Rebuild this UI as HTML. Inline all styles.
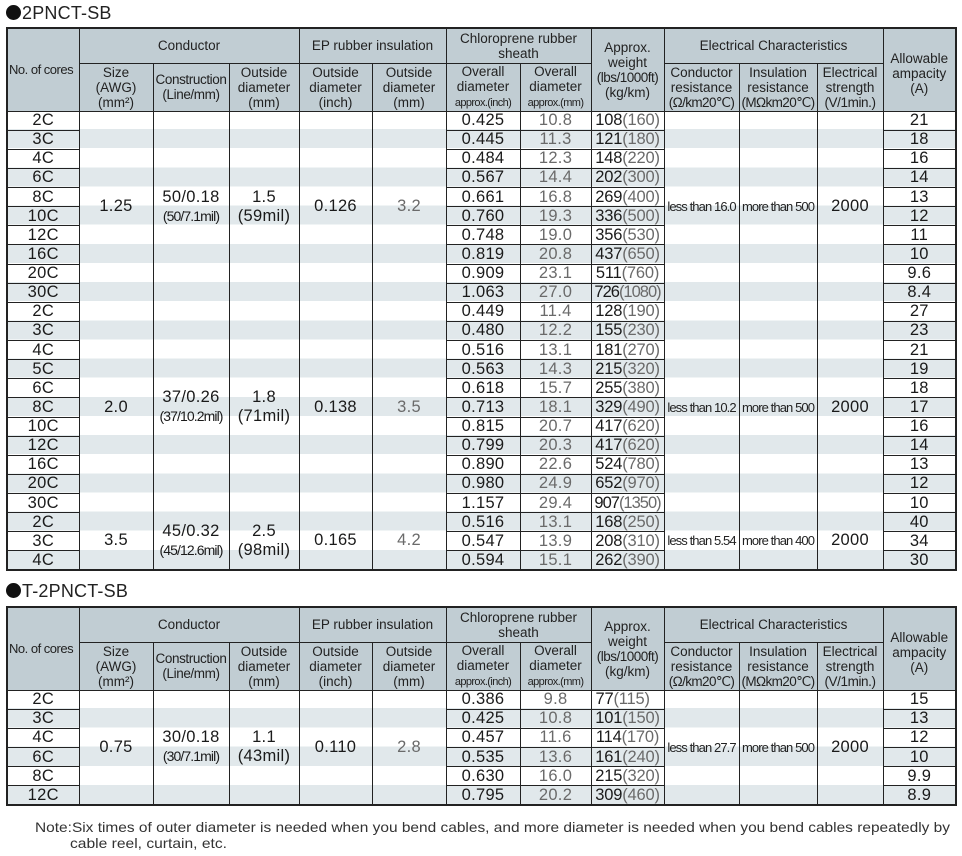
<!DOCTYPE html>
<html><head><meta charset="utf-8">
<style>
*{margin:0;padding:0;box-sizing:border-box}
body{width:962px;height:856px;background:#fff;position:relative;overflow:hidden;font-family:"Liberation Sans",sans-serif;color:#1a1a1a}
.title{position:absolute;left:6px;font-size:18px;color:#222;letter-spacing:0.2px;line-height:20px}
.dot{display:inline-block;width:15px;height:15px;border-radius:50%;background:#111;vertical-align:-1px;margin-right:1px}
.wrap{position:absolute;left:6px;width:949px}
.stripe{position:absolute;left:0;width:949px;top:83px;background:repeating-linear-gradient(to bottom,#fff 0,#fff 19.125px,#e1e8eb 19.125px,#e1e8eb 38.25px)}
table{position:relative;border-collapse:collapse;table-layout:fixed;width:949px;border:2px solid #222}
td,th{border:1px solid #222;text-align:center;vertical-align:middle;padding:0;overflow:visible;white-space:nowrap}
th{background:#c1cdd3;font-weight:normal;font-size:13.5px;line-height:15px;color:#222}
td{font-size:16.5px;line-height:17px;height:19.125px;letter-spacing:0.3px}
td.m{border-top:none;border-bottom:none}
td.w{letter-spacing:-0.2px}
.g{color:#6a6a6a}
.sm{font-size:13px;letter-spacing:-0.9px;color:#222}
.two{font-size:16.5px;line-height:19px}
.two small{font-size:14px;letter-spacing:-0.9px}
tr.h1{height:35px}
tr.h2{height:48px}
.nc{text-align:left!important;padding-left:1px!important;font-size:13px!important;letter-spacing:-0.5px}
</style></head><body>

<div class="title" style="top:3px"><span class="dot"></span>2PNCT-SB</div>
<div class="wrap" style="top:27px">
<div class="stripe" style="height:459px"></div>
<table>
<colgroup><col style="width:72px"><col style="width:74px"><col style="width:76px"><col style="width:70px"><col style="width:73px"><col style="width:74px"><col style="width:74px"><col style="width:71px"><col style="width:73px"><col style="width:75px"><col style="width:78px"><col style="width:66px"><col style="width:73px"></colgroup>
<tr class="h1"><th rowspan="2" class="nc">No. of cores</th><th colspan="3">Conductor</th><th colspan="2">EP rubber insulation</th><th colspan="2">Chloroprene rubber<br>sheath</th><th rowspan="2">Approx.<br>weight<br><span style="letter-spacing:-0.5px">(lbs/1000ft)</span><br>(kg/km)</th><th colspan="3">Electrical Characteristics</th><th rowspan="2" style="padding-top:8px">Allowable<br>ampacity<br>(A)</th></tr>
<tr class="h2"><th>Size<br>(AWG)<br>(mm²)</th><th style="letter-spacing:-0.4px">Construction<br>(Line/mm)</th><th>Outside<br>diameter<br>(mm)</th><th>Outside<br>diameter<br>(inch)</th><th>Outside<br>diameter<br>(mm)</th><th>Overall<br>diameter<br><span style="font-size:11px;letter-spacing:-0.6px">approx.(inch)</span></th><th>Overall<br>diameter<br><span style="font-size:11px;letter-spacing:-0.6px">approx.(mm)</span></th><th>Conductor<br>resistance<br><span style="letter-spacing:-0.6px">(Ω/km20℃)</span></th><th>Insulation<br>resistance<br><span style="letter-spacing:-0.6px">(MΩkm20℃)</span></th><th>Electrical<br>strength<br><span style="letter-spacing:-0.4px">(V/1min.)</span></th></tr>

<tr><td>2C</td><td class="m" rowspan="10">1.25</td><td class="m two" rowspan="10">50/0.18<br><small>(50/7.1mil)</small></td><td class="m two" rowspan="10">1.5<br>(59mil)</td><td class="m" rowspan="10">0.126</td><td class="m g" rowspan="10">3.2</td><td>0.425</td><td class="g">10.8</td><td class="w">108<span class="g">(160)</span></td><td class="m sm" rowspan="10">less than 16.0</td><td class="m sm" rowspan="10">more than 500</td><td class="m" rowspan="10">2000</td><td>21</td></tr>
<tr><td>3C</td><td>0.445</td><td class="g">11.3</td><td class="w">121<span class="g">(180)</span></td><td>18</td></tr>
<tr><td>4C</td><td>0.484</td><td class="g">12.3</td><td class="w">148<span class="g">(220)</span></td><td>16</td></tr>
<tr><td>6C</td><td>0.567</td><td class="g">14.4</td><td class="w">202<span class="g">(300)</span></td><td>14</td></tr>
<tr><td>8C</td><td>0.661</td><td class="g">16.8</td><td class="w">269<span class="g">(400)</span></td><td>13</td></tr>
<tr><td>10C</td><td>0.760</td><td class="g">19.3</td><td class="w">336<span class="g">(500)</span></td><td>12</td></tr>
<tr><td>12C</td><td>0.748</td><td class="g">19.0</td><td class="w">356<span class="g">(530)</span></td><td>11</td></tr>
<tr><td>16C</td><td>0.819</td><td class="g">20.8</td><td class="w">437<span class="g">(650)</span></td><td>10</td></tr>
<tr><td>20C</td><td>0.909</td><td class="g">23.1</td><td class="w">511<span class="g">(760)</span></td><td>9.6</td></tr>
<tr><td>30C</td><td>1.063</td><td class="g">27.0</td><td class="w" style="letter-spacing:-1px">726<span class="g">(1080)</span></td><td>8.4</td></tr>

<tr><td>2C</td><td class="m" rowspan="11">2.0</td><td class="m two" rowspan="11">37/0.26<br><small>(37/10.2mil)</small></td><td class="m two" rowspan="11">1.8<br>(71mil)</td><td class="m" rowspan="11">0.138</td><td class="m g" rowspan="11">3.5</td><td>0.449</td><td class="g">11.4</td><td class="w">128<span class="g">(190)</span></td><td class="m sm" rowspan="11">less than 10.2</td><td class="m sm" rowspan="11">more than 500</td><td class="m" rowspan="11">2000</td><td>27</td></tr>
<tr><td>3C</td><td>0.480</td><td class="g">12.2</td><td class="w">155<span class="g">(230)</span></td><td>23</td></tr>
<tr><td>4C</td><td>0.516</td><td class="g">13.1</td><td class="w">181<span class="g">(270)</span></td><td>21</td></tr>
<tr><td>5C</td><td>0.563</td><td class="g">14.3</td><td class="w">215<span class="g">(320)</span></td><td>19</td></tr>
<tr><td>6C</td><td>0.618</td><td class="g">15.7</td><td class="w">255<span class="g">(380)</span></td><td>18</td></tr>
<tr><td>8C</td><td>0.713</td><td class="g">18.1</td><td class="w">329<span class="g">(490)</span></td><td>17</td></tr>
<tr><td>10C</td><td>0.815</td><td class="g">20.7</td><td class="w">417<span class="g">(620)</span></td><td>16</td></tr>
<tr><td>12C</td><td>0.799</td><td class="g">20.3</td><td class="w">417<span class="g">(620)</span></td><td>14</td></tr>
<tr><td>16C</td><td>0.890</td><td class="g">22.6</td><td class="w">524<span class="g">(780)</span></td><td>13</td></tr>
<tr><td>20C</td><td>0.980</td><td class="g">24.9</td><td class="w">652<span class="g">(970)</span></td><td>12</td></tr>
<tr><td>30C</td><td>1.157</td><td class="g">29.4</td><td class="w" style="letter-spacing:-1px">907<span class="g">(1350)</span></td><td>10</td></tr>

<tr><td>2C</td><td class="m" rowspan="3">3.5</td><td class="m two" rowspan="3">45/0.32<br><small>(45/12.6mil)</small></td><td class="m two" rowspan="3">2.5<br>(98mil)</td><td class="m" rowspan="3">0.165</td><td class="m g" rowspan="3">4.2</td><td>0.516</td><td class="g">13.1</td><td class="w">168<span class="g">(250)</span></td><td class="m sm" rowspan="3">less than 5.54</td><td class="m sm" rowspan="3">more than 400</td><td class="m" rowspan="3">2000</td><td>40</td></tr>
<tr><td>3C</td><td>0.547</td><td class="g">13.9</td><td class="w">208<span class="g">(310)</span></td><td>34</td></tr>
<tr><td>4C</td><td>0.594</td><td class="g">15.1</td><td class="w">262<span class="g">(390)</span></td><td>30</td></tr>
</table>
</div>

<div class="title" style="top:581px"><span class="dot"></span>T-2PNCT-SB</div>
<div class="wrap" style="top:606px">
<div class="stripe" style="height:115px;background:repeating-linear-gradient(to bottom,#fff 0,#fff 19.2px,#e1e8eb 19.2px,#e1e8eb 38.4px)"></div>
<table>
<colgroup><col style="width:72px"><col style="width:74px"><col style="width:76px"><col style="width:70px"><col style="width:73px"><col style="width:74px"><col style="width:74px"><col style="width:71px"><col style="width:73px"><col style="width:75px"><col style="width:78px"><col style="width:66px"><col style="width:73px"></colgroup>
<tr class="h1"><th rowspan="2" class="nc">No. of cores</th><th colspan="3">Conductor</th><th colspan="2">EP rubber insulation</th><th colspan="2">Chloroprene rubber<br>sheath</th><th rowspan="2">Approx.<br>weight<br><span style="letter-spacing:-0.5px">(lbs/1000ft)</span><br>(kg/km)</th><th colspan="3">Electrical Characteristics</th><th rowspan="2" style="padding-top:8px">Allowable<br>ampacity<br>(A)</th></tr>
<tr class="h2"><th>Size<br>(AWG)<br>(mm²)</th><th style="letter-spacing:-0.4px">Construction<br>(Line/mm)</th><th>Outside<br>diameter<br>(mm)</th><th>Outside<br>diameter<br>(inch)</th><th>Outside<br>diameter<br>(mm)</th><th>Overall<br>diameter<br><span style="font-size:11px;letter-spacing:-0.6px">approx.(inch)</span></th><th>Overall<br>diameter<br><span style="font-size:11px;letter-spacing:-0.6px">approx.(mm)</span></th><th>Conductor<br>resistance<br><span style="letter-spacing:-0.6px">(Ω/km20℃)</span></th><th>Insulation<br>resistance<br><span style="letter-spacing:-0.6px">(MΩkm20℃)</span></th><th>Electrical<br>strength<br><span style="letter-spacing:-0.4px">(V/1min.)</span></th></tr>
<tr style="height:19.2px"><td>2C</td><td class="m" rowspan="6">0.75</td><td class="m two" rowspan="6">30/0.18<br><small>(30/7.1mil)</small></td><td class="m two" rowspan="6">1.1<br>(43mil)</td><td class="m" rowspan="6">0.110</td><td class="m g" rowspan="6">2.8</td><td>0.386</td><td class="g">9.8</td><td class="w" style="text-align:left;padding-left:4px">77<span class="g">(115)</span></td><td class="m sm" rowspan="6">less than 27.7</td><td class="m sm" rowspan="6">more than 500</td><td class="m" rowspan="6">2000</td><td>15</td></tr>
<tr style="height:19.2px"><td>3C</td><td>0.425</td><td class="g">10.8</td><td class="w">101<span class="g">(150)</span></td><td>13</td></tr>
<tr style="height:19.2px"><td>4C</td><td>0.457</td><td class="g">11.6</td><td class="w">114<span class="g">(170)</span></td><td>12</td></tr>
<tr style="height:19.2px"><td>6C</td><td>0.535</td><td class="g">13.6</td><td class="w">161<span class="g">(240)</span></td><td>10</td></tr>
<tr style="height:19.2px"><td>8C</td><td>0.630</td><td class="g">16.0</td><td class="w">215<span class="g">(320)</span></td><td>9.9</td></tr>
<tr style="height:19.2px"><td>12C</td><td>0.795</td><td class="g">20.2</td><td class="w">309<span class="g">(460)</span></td><td>8.9</td></tr>
</table>
</div>

<svg style="position:absolute;left:0;top:815px" width="962" height="41">
<text x="35" y="17" font-family="Liberation Sans, sans-serif" font-size="14" fill="#333" textLength="915" lengthAdjust="spacingAndGlyphs">Note:Six times of outer diameter is needed when you bend cables, and more diameter is needed when you bend cables repeatedly by</text>
<text x="70" y="33" font-family="Liberation Sans, sans-serif" font-size="14" fill="#333" textLength="157" lengthAdjust="spacingAndGlyphs">cable reel, curtain, etc.</text>
</svg>
</body></html>
